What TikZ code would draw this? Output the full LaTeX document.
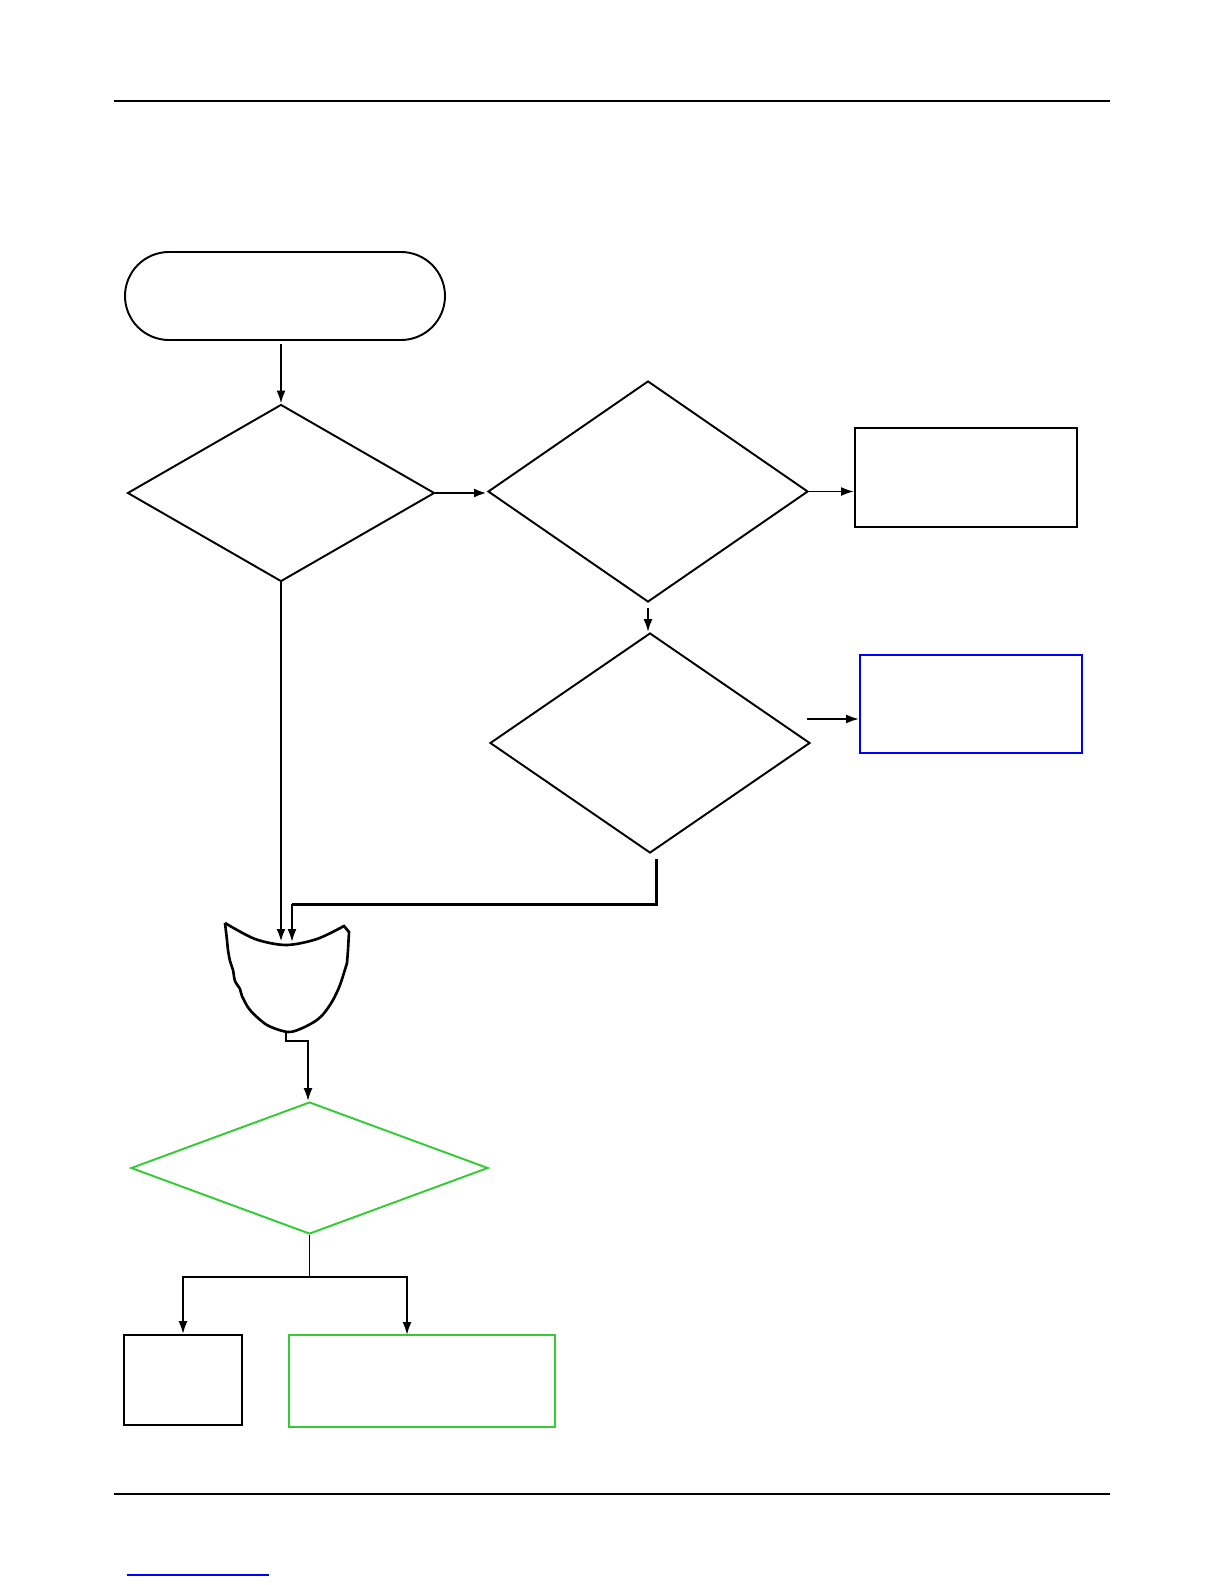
\documentclass[tikz,border=0pt]{standalone}
\usetikzlibrary{shapes.geometric,arrows.meta}
\definecolor{flowgreen}{RGB}{51,204,51}
\definecolor{flowblue}{RGB}{0,0,255}
\begin{document}
\begin{tikzpicture}[line width=1.1pt,
  terminal/.style={draw, rectangle, rounded corners=0.88cm, inner sep=0pt},
  decision/.style={draw, diamond, inner sep=0pt},
  process/.style={draw, rectangle, inner sep=0pt},
  flow/.style={-{Latex[length=2.6mm,width=1.8mm]}}]

\useasboundingbox (0,0) rectangle (24.5,-31.7) ;
\fill [white] (0,0) rectangle (24.5,-31.7) ;

% page rules
\draw (2.28,-2.02) -- (22.20,-2.02) ;
\draw (2.28,-29.88) -- (22.20,-29.88) ;
\draw [flowblue, line width=0.8pt] (2.54,-31.50) -- (5.38,-31.50) ;

% upper part
\node (start) at (5.70,-5.92) [terminal, minimum width=6.40cm, minimum height=1.76cm] {} ;
\node (d1) at (5.62,-9.86) [decision, minimum width=6.14cm, minimum height=3.54cm] {} ;
\node (d2) at (12.96,-9.83) [decision, minimum width=6.40cm, minimum height=4.42cm] {} ;
\node (box1) at (19.32,-9.55) [process, minimum width=4.44cm, minimum height=1.98cm] {} ;
\node (d3) at (13.00,-14.86) [decision, minimum width=6.40cm, minimum height=4.40cm] {} ;
\node (blue) at (19.42,-14.08) [process, draw=flowblue, minimum width=4.44cm, minimum height=1.96cm] {} ;

\draw [flow, shorten <=2pt] (d1.north |- start.south) -- (d1.north) ;
\draw [flow, line width=1.7pt] (d1.east) -- (d1.east -| d2.west) ;
\draw [flow] (d2.east) -- (d2.east -| box1.west) ;
\draw [flow, shorten <=3pt] (d2.south) -- (d2.south |- d3.north) ;
\coordinate (free) at (16.14,-14.38) ;
\draw [flow] (free) -- (free -| blue.west) ;

% merge shape
\coordinate (dip) at (5.72,-18.90) ;
\coordinate (tip) at (5.72,-20.64) ;
\draw [line width=1.5pt] plot [smooth] coordinates {(4.50,-18.46) (5.10,-18.78) (5.72,-18.90) (6.34,-18.78) (6.88,-18.52)}
  -- (6.98,-18.64) -- (6.96,-19.00) -- (6.94,-19.26)
  plot [smooth] coordinates {(6.94,-19.26) (6.80,-19.70) (6.66,-20.00) (6.50,-20.24) (6.34,-20.40) (6.05,-20.56) (5.76,-20.64)
  (5.34,-20.50) (5.00,-20.20) (4.84,-19.92) (4.80,-19.78) (4.70,-19.62) (4.66,-19.40) (4.60,-19.22) (4.56,-19.00) (4.54,-18.80)}
  -- (4.50,-18.46) ;

\coordinate (m1) at (5.62,-18.84) ;
\coordinate (m2) at (5.84,-18.84) ;
\coordinate (d3out) at (13.12,-17.18) ;
\draw [flow, line width=1.7pt] (d1.south) -- (d1.south |- m1) ;
\draw [line width=1.7pt] (d3out) -- (13.12,-18.08) -- (5.84,-18.08) ;
\draw [flow] (5.84,-18.08) -- (m2) ;

% lower part
\node (g) at (6.19,-23.36) [decision, draw=flowgreen, minimum width=7.14cm, minimum height=2.64cm] {} ;
\node (left) at (3.66,-27.60) [process, minimum width=2.36cm, minimum height=1.80cm] {} ;
\node (green) at (8.44,-27.62) [process, draw=flowgreen, minimum width=5.32cm, minimum height=1.84cm] {} ;

\draw [flow] (tip) -- (5.72,-20.82) -- (6.16,-20.82) -- (6.16,-20.82 |- g.north) ;
\coordinate (split) at (6.19,-25.54) ;
\coordinate (gin) at (8.14,-26.70) ;
\draw (g.south) -- (split) ;
\draw [flow] (split) -| (left.north) ;
\draw [flow] (split) -| (gin) ;
\end{tikzpicture}
\end{document}
